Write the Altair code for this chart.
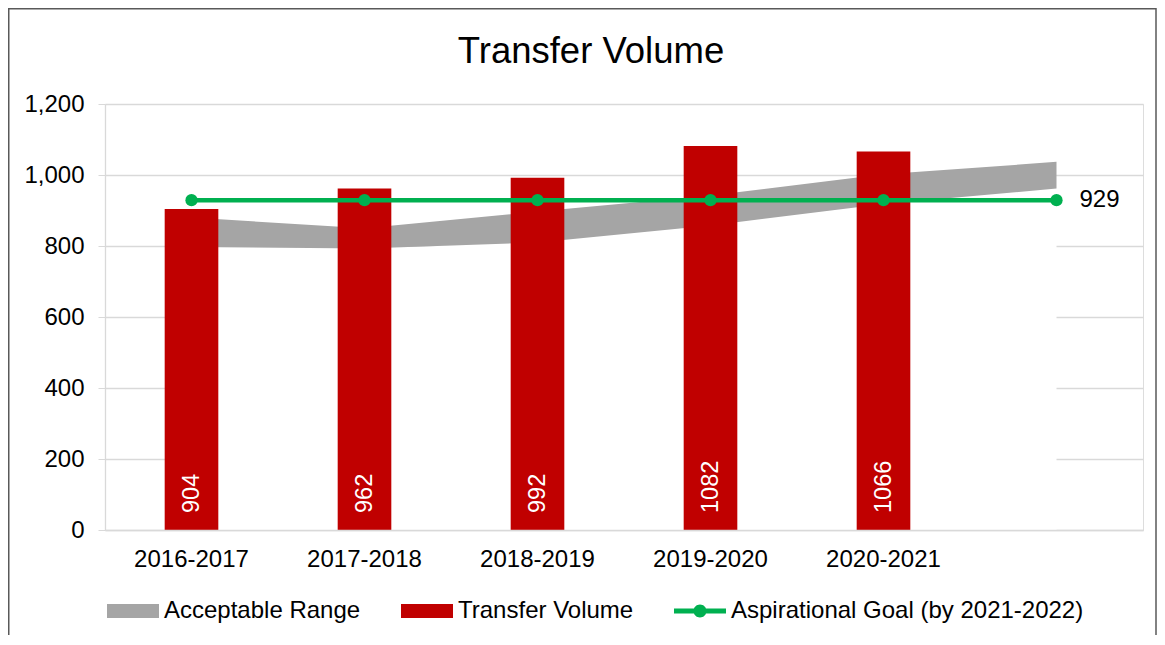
import altair as alt
import pandas as pd

# ---- data ----
categories = ["2016-2017", "2017-2018", "2018-2019", "2019-2020", "2020-2021"]
transfer_volume = [904, 962, 992, 1082, 1066]

all_categories = ["2016-2017", "2017-2018", "2018-2019", "2019-2020", "2020-2021", "2021-2022"]
range_low = [797, 793, 810, 858, 918, 962]
range_high = [880, 850, 897, 942, 1002, 1037]
goal_values = [929, 929, 929, 929, 929, 929]

series_names = ["Acceptable Range", "Transfer Volume", "Aspirational Goal (by 2021-2022)"]
series_colors = ["#A5A5A5", "#C00000", "#00B050"]
legend_shapes = [
    "M-1,-0.27L1,-0.27L1,0.27L-1,0.27Z",
    "M-1,-0.27L1,-0.27L1,0.27L-1,0.27Z",
    "M-1,-0.095L1,-0.095L1,0.095L-1,0.095Z M-0.25,0 A0.25,0.25 0 1,1 0.25,0 A0.25,0.25 0 1,1 -0.25,0Z",
]

FONT = "Liberation Sans"
FS = 24
W, H = 1038, 426

bars_df = pd.DataFrame({"cat": categories, "val": transfer_volume})
range_df = pd.DataFrame({"cat": all_categories, "low": range_low, "high": range_high})
goal_df = pd.DataFrame({"cat": all_categories, "goal": goal_values})
legend_df = pd.DataFrame({"cat": [categories[0]] * 3, "v": [0, 0, 0], "name": series_names})

xscale = alt.Scale(domain=all_categories, paddingInner=0.69, paddingOuter=0.345)
yscale = alt.Scale(domain=[0, 1200], nice=False)

x_enc = alt.X(
    "cat:N",
    scale=xscale,
    sort=all_categories,
    title=None,
    axis=alt.Axis(
        labelExpr="datum.value == '2021-2022' ? '' : datum.label",
        labelAngle=0,
        ticks=False,
        labelPadding=17,
        domainColor="#D9D9D9",
        domainWidth=1.5,
        labelFontSize=FS,
        labelFont=FONT,
        labelColor="#000000",
        zindex=1,
        grid=False,
    ),
)
y_axis = alt.Axis(
    values=[0, 200, 400, 600, 800, 1000, 1200],
    format=",d",
    grid=True,
    gridColor="#D9D9D9",
    gridWidth=1.3,
    domainColor="#D9D9D9",
    domainWidth=1.3,
    tickColor="#D9D9D9",
    tickSize=7,
    labelPadding=14,
    labelFontSize=FS,
    labelFont=FONT,
    labelColor="#000000",
)

white_area = alt.Chart(range_df).mark_area(color="white", opacity=1, line=False).encode(
    x=x_enc,
    y=alt.Y("low:Q", scale=yscale, axis=y_axis, title=None, stack=None),
    y2=alt.datum(0),
)

band = alt.Chart(range_df).mark_area(color="#A5A5A5", opacity=1).encode(
    x=x_enc,
    y=alt.Y("low:Q", scale=yscale, stack=None),
    y2="high:Q",
)

bars = alt.Chart(bars_df).mark_bar(color="#C00000").encode(
    x=x_enc,
    y=alt.Y("val:Q", scale=yscale),
)

bar_labels = alt.Chart(bars_df).mark_text(
    angle=270, align="left", baseline="middle", dx=17, color="white",
    fontSize=23.5, font=FONT,
).encode(
    x=x_enc,
    y=alt.datum(0),
    text=alt.Text("val:Q", format="d"),
)

goal_line = alt.Chart(goal_df).mark_line(color="#00B050", strokeWidth=4.5).encode(
    x=x_enc,
    y=alt.Y("goal:Q", scale=yscale),
)
goal_points = alt.Chart(goal_df).mark_circle(color="#00B050", size=150, opacity=1).encode(
    x=x_enc,
    y=alt.Y("goal:Q", scale=yscale),
)
goal_label = alt.Chart(goal_df).transform_filter(
    alt.datum.cat == "2021-2022"
).mark_text(align="left", baseline="middle", dx=23, fontSize=FS, font=FONT, color="#000000").encode(
    x=x_enc,
    y=alt.Y("goal:Q", scale=yscale),
    text=alt.Text("goal:Q", format="d"),
)

legend_props = dict(
    title=None,
    orient="none",
    direction="horizontal",
    columns=3,
    legendX=2,
    legendY=481,
    columnPadding=40,
    labelOffset=5,
    labelFontSize=FS,
    labelFont=FONT,
    labelColor="#000000",
    labelLimit=800,
    symbolSize=2704,
    symbolStrokeWidth=0,
    symbolOpacity=1,
)

legend_layer = alt.Chart(legend_df).mark_point(filled=True, opacity=0, size=2704).encode(
    x=x_enc,
    y=alt.Y("v:Q", scale=yscale),
    color=alt.Color("name:N", scale=alt.Scale(domain=series_names, range=series_colors),
                    sort=series_names, legend=alt.Legend(**legend_props)),
    shape=alt.Shape("name:N", scale=alt.Scale(domain=series_names, range=legend_shapes),
                    sort=series_names, legend=alt.Legend(**legend_props)),
)

frame = alt.Chart(alt.Data(values=[{}])).mark_rect(
    fillOpacity=0, stroke="#595959", strokeWidth=1.5
).encode(
    x=alt.value(-96.25),
    x2=alt.value(W + 13),
    y=alt.value(-95.25),
    y2=alt.value(H + 300),
)

chart = alt.layer(
    white_area, band, bars, bar_labels, goal_line, goal_points, goal_label, legend_layer, frame
).resolve_scale(color="shared", shape="shared").properties(
    width=W,
    height=H,
    title=alt.TitleParams(
        "Transfer Volume", fontSize=36.5, font=FONT, fontWeight="normal",
        color="#000000", anchor="middle", dx=-33, offset=0, dy=91, baseline="alphabetic",
    ),
    padding={"left": 97, "top": 96, "right": 14, "bottom": 105},
    autosize=alt.AutoSizeParams(type="none"),
).configure_view(stroke=None).configure(background="white")

chart.save("out.html", embed_options={"renderer": "svg", "actions": False})
